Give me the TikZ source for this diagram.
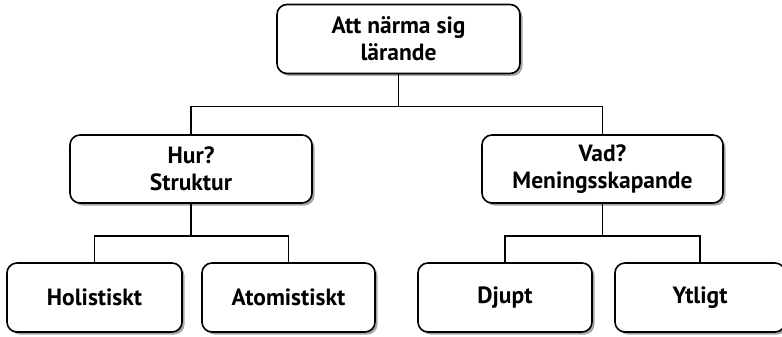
\documentclass[tikz,border=0pt]{standalone}
\usepackage{fontspec}
\setmainfont{PT Sans}
\usetikzlibrary{shadows}

\tikzset{
  box/.style={draw, line width=1.6pt, rounded corners=10pt, fill=white,
    align=center, inner sep=0pt, minimum height=69pt,
    font=\bfseries\fontsize{23.5}{27}\selectfont,
    drop shadow={shadow xshift=2.5pt, shadow yshift=-2.5pt, opacity=0.35, fill=black}},
  line/.style={line width=1.6pt}
}

\begin{document}
\begin{tikzpicture}[x=1pt, y=-1pt]
  \useasboundingbox (0,0) rectangle (782,337);

  % Nodes
  \node[box, minimum width=243pt] (top) at (398.5, 39) {Att närma sig\\lärande};
  \node[box, minimum width=242pt, minimum height=68pt] (hur) at (191, 169) {Hur?\\Struktur};
  \node[box, minimum width=241pt, minimum height=68pt] (vad) at (602.5, 169) {Vad?\\Meningsskapande};
  \node[box, minimum width=175pt] (holi) at (94.5, 297.5) {Holistiskt};
  \node[box, minimum width=173pt] (atom) at (288.5, 297.5) {Atomistiskt};
  \node[box, minimum width=174pt] (djupt) at (505, 297.5) {Djupt};
  \node[box, minimum width=170pt] (ytligt) at (700, 297.5) {Ytligt};

  % Lines
  \draw[line] (top.south) -- ++(0,32) coordinate (jtop);
  \draw[line] (hur.north) |- (jtop) -| (vad.north);

  \draw[line] (hur.south) -- ++(0,32) coordinate (jhur);
  \draw[line] (holi.north) |- (jhur) -| (atom.north);

  \draw[line] (vad.south) -- ++(0,32) coordinate (jvad);
  \draw[line] (djupt.north) |- (jvad) -| (ytligt.north);
\end{tikzpicture}
\end{document}
